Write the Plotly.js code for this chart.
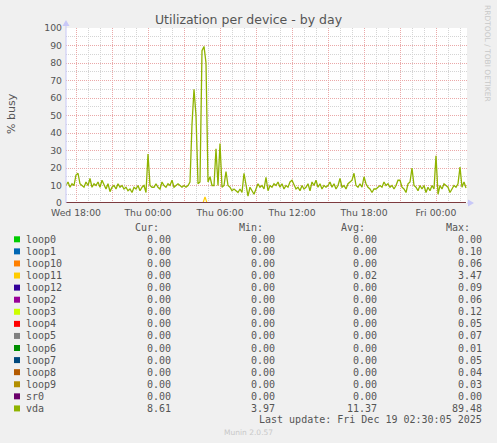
<!DOCTYPE html>
<html><head><meta charset="utf-8">
<script src="https://cdn.plot.ly/plotly-3.0.1.min.js"></script>
<style>html,body{margin:0;padding:0;background:#f0f0f0;}#chart{width:497px;height:443px;}</style>
</head><body><div id="chart"></div>
<script>
// ---- data ----
const startTime = '2025-12-17T17:10:00Z';
const stepMinutes = 10;
// vda % busy, every 10 minutes from Wed 17:10 to Fri 02:30
const vdaValues = [
  10, 12, 9, 11, 10,
  16, 17, 11, 10, 9, 12,
  10, 14, 9, 11, 10, 12,
  9, 13, 10, 8, 11, 6.5,
  9, 10, 8, 11, 9, 10,
  8, 9, 7, 8, 6, 9,
  8, 10, 7, 9, 10, 6,
  28, 10, 9, 9, 11, 9,
  8, 12, 10, 9, 11, 10,
  13, 9, 10, 11, 10, 9,
  10, 9, 10, 12, 45, 65,
  50, 11, 12, 87, 89.48, 80,
  12, 15, 10, 10, 31, 10,
  34, 9, 10, 18, 10, 9,
  7, 8, 7, 6, 8, 6,
  17, 9, 3.97, 9, 7, 5,
  8, 11, 9, 10, 8, 14.7,
  7, 10, 9, 11, 10, 12,
  9, 11, 8, 10, 9, 12,
  13, 10, 8, 9, 7, 10,
  8, 9, 11, 7, 12, 10,
  13, 9, 11, 8, 10, 9,
  10, 12, 9, 11, 8, 10,
  14, 9, 10, 8, 11, 12,
  13, 17, 10, 9, 11, 9,
  15, 11, 9, 8, 6, 8,
  8, 9, 10, 9, 12, 10,
  11, 9, 10, 8, 10, 13,
  13, 9, 8, 6, 11, 12,
  20, 10, 9, 7, 10, 8,
  10, 6, 9, 7, 10, 8,
  27, 5, 10, 8, 11, 10,
  9, 6, 8, 10, 9, 11,
  20.5, 9, 12, 8.61
];
const flatTimes = ['2025-12-17 17:10', '2025-12-19 02:30'];
const flatValues = [0, 0];
const loop11Times = ['2025-12-17 17:10', '2025-12-18 04:35', '2025-12-18 04:45', '2025-12-18 04:55', '2025-12-19 02:30'];
const loop11Values = [0, 0, 3.47, 0, 0];

const seriesNames = ['loop0','loop1','loop10','loop11','loop12','loop2','loop3','loop4','loop5','loop6','loop7','loop8','loop9','sr0','vda'];
const seriesColors = ['#00CC00','#0066B3','#FF8000','#FFCC00','#330099','#990099','#CCFF00','#FF0000','#808080','#008F00','#00487D','#B35A00','#B38F00','#6B006B','#8FB300'];
const curValues = ['0.00','0.00','0.00','0.00','0.00','0.00','0.00','0.00','0.00','0.00','0.00','0.00','0.00','0.00','8.61'];
const minValues = ['0.00','0.00','0.00','0.00','0.00','0.00','0.00','0.00','0.00','0.00','0.00','0.00','0.00','0.00','3.97'];
const avgValues = ['0.00','0.00','0.00','0.02','0.00','0.00','0.00','0.00','0.00','0.00','0.00','0.00','0.00','0.00','11.37'];
const maxValues = ['0.00','0.10','0.06','3.47','0.09','0.06','0.12','0.05','0.07','0.01','0.05','0.04','0.03','0.00','89.48'];
const columnHeaders = ['Cur:','Min:','Avg:','Max:'];
const lastUpdate = 'Last update: Fri Dec 19 02:30:05 2025';
const tickStart = '2025-12-17T18:00:00Z';
const tickEnd = '2025-12-19T00:00:00Z';

// ---- build ----
function fmt(d){ return d.toISOString().slice(0,16).replace('T',' '); }
const t0 = Date.parse(startTime);
const vdaTimes = vdaValues.map((_, i) => fmt(new Date(t0 + i*stepMinutes*60000)));

const dayNames = ['Sun','Mon','Tue','Wed','Thu','Fri','Sat'];
const tickvals = [], ticktext = [];
for (let t = Date.parse(tickStart); t <= Date.parse(tickEnd); t += 3*3600000) {
  const d = new Date(t);
  tickvals.push(fmt(d));
  ticktext.push(d.getUTCHours() % 6 === 0 ? dayNames[d.getUTCDay()] + ' ' + fmt(d).slice(11) : '');
}

const traces = seriesNames.map((name, k) => {
  let x = flatTimes, y = flatValues;
  if (name === 'vda') { x = vdaTimes; y = vdaValues; }
  else if (name === 'loop11') { x = loop11Times; y = loop11Values; }
  return {type:'scatter', mode:'lines', name, x, y, line:{color:seriesColors[k], width: name === 'vda' ? 1.3 : 1.2}, hoverinfo:'skip'};
});

// pixel helpers for decoration placement
const PL = 66, PR = 467, PT = 28, PB = 203;
const px = v => (v - PL) / (PR - PL);
const py = v => (PB - v) / (PB - PT);

const monoFont = {family:'DejaVu Sans Mono', size:10, color:'#555'};
const annotations = [];
const shapes = [];
const rowY0 = 239.3, rowStep = 12.08;
const colRight = [172, 276, 378, 483];
columnHeaders.forEach((h, c) => annotations.push({xref:'paper', yref:'paper', x:px(colRight[c]-12), y:py(227.7), text:h, showarrow:false, xanchor:'right', yanchor:'middle', font:monoFont, borderpad:0}));
seriesNames.forEach((name, k) => {
  const yy = rowY0 + k*rowStep;
  shapes.push({type:'rect', xref:'paper', yref:'paper', x0:px(14), x1:px(20), y0:py(yy+3), y1:py(yy-3), fillcolor:seriesColors[k], line:{width:0}});
  annotations.push({xref:'paper', yref:'paper', x:px(25), y:py(yy), text:name, showarrow:false, xanchor:'left', yanchor:'middle', font:monoFont, borderpad:0});
  [curValues, minValues, avgValues, maxValues].forEach((arr, c) => {
    annotations.push({xref:'paper', yref:'paper', x:px(colRight[c]), y:py(yy), text:arr[k], showarrow:false, xanchor:'right', yanchor:'middle', font:monoFont, borderpad:0});
  });
});
annotations.push({xref:'paper', yref:'paper', x:px(483), y:py(419.3), text:lastUpdate, showarrow:false, xanchor:'right', yanchor:'middle', font:monoFont, borderpad:0});
annotations.push({xref:'paper', yref:'paper', x:px(248), y:py(432), text:'Munin 2.0.57', showarrow:false, xanchor:'center', yanchor:'middle', font:{family:'DejaVu Sans', size:7.5, color:'#c8c8c8'}, borderpad:0});
annotations.push({xref:'paper', yref:'paper', x:px(487.5), y:py(53.5), text:'RRDTOOL / TOBI OETIKER', textangle:90, showarrow:false, xanchor:'center', yanchor:'middle', font:{family:'DejaVu Sans', size:7.5, color:'#c8c8c8'}, borderpad:0});
annotations.push({xref:'paper', yref:'paper', x:px(11.5), y:py(113.5), text:'% busy', textangle:-90, showarrow:false, xanchor:'center', yanchor:'middle', font:{family:'DejaVu Sans', size:11, color:'#555'}, borderpad:0});

// axis arrows
const axisCol = '#c8c8f8';
shapes.push({type:'line', xref:'paper', yref:'paper', x0:px(66), x1:px(66), y0:py(203), y1:py(24), line:{color:axisCol, width:1}});
shapes.push({type:'path', xref:'paper', yref:'paper', path:`M ${px(62.5)} ${py(26)} L ${px(69.5)} ${py(26)} L ${px(66)} ${py(20)} Z`, fillcolor:axisCol, line:{width:0}});
shapes.push({type:'line', xref:'paper', yref:'paper', x0:px(467), x1:px(470), y0:py(203), y1:py(203), line:{color:axisCol, width:1}});
shapes.push({type:'path', xref:'paper', yref:'paper', path:`M ${px(468)} ${py(199.5)} L ${px(468)} ${py(206.5)} L ${px(474)} ${py(203)} Z`, fillcolor:axisCol, line:{width:0}});

const majorGrid = '#eaa8a8';
const minorGrid = '#d4d4d4';
const tickFont = {family:'DejaVu Sans', size:9.3, color:'#555'};

const layout = {
  width:497, height:443,
  margin:{l:PL, r:497-PR, t:PT, b:443-PB, pad:0},
  paper_bgcolor:'#f0f0f0', plot_bgcolor:'#ffffff',
  showlegend:false,
  title:{text:'Utilization per device - by day', font:{family:'DejaVu Sans', size:12.5, color:'#555'}, xref:'container', x:0.5, xanchor:'center', yref:'container', y:1-19.5/443, yanchor:'middle'},
  xaxis:{type:'date', range:['2025-12-17 17:10','2025-12-19 02:35'], tickmode:'array', tickvals, ticktext, ticks:'', tickfont:tickFont, ticklabelstandoff:3,
    showgrid:true, gridcolor:majorGrid, griddash:'1px,1px', gridwidth:1, zeroline:false, showline:false, fixedrange:true,
    minor:{tickmode:'linear', tick0:'2025-12-17 00:00', dtick:3600000, showgrid:true, gridcolor:minorGrid, griddash:'1px,1px', gridwidth:1, ticks:''}},
  yaxis:{range:[0,100], tickmode:'linear', tick0:0, dtick:10, ticks:'', tickfont:tickFont, ticklabelstandoff:3,
    showgrid:true, gridcolor:majorGrid, griddash:'1px,1px', gridwidth:1, zeroline:false, showline:false, fixedrange:true,
    minor:{tickmode:'linear', tick0:0, dtick:5, showgrid:true, gridcolor:minorGrid, griddash:'1px,1px', gridwidth:1, ticks:''}},
  annotations, shapes
};
Plotly.newPlot('chart', traces, layout, {staticPlot:true, displayModeBar:false});
</script></body></html>
